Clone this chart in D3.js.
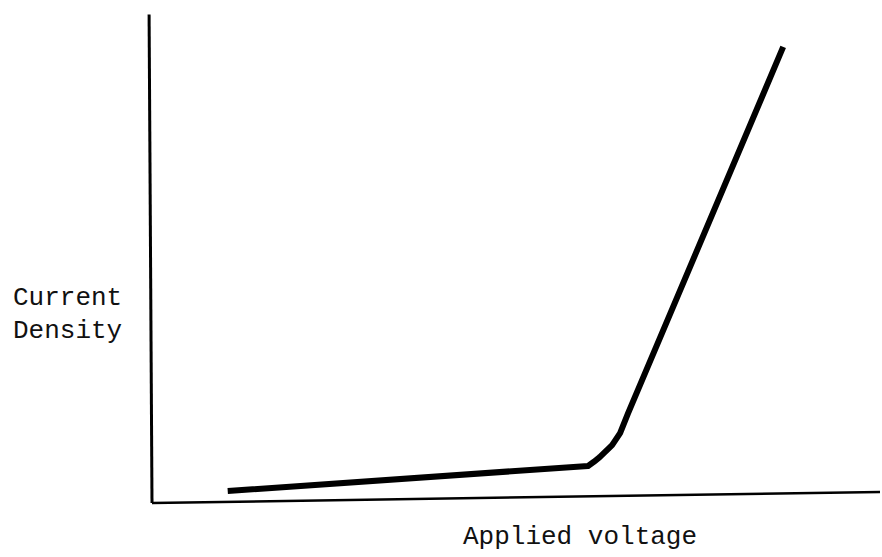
<!DOCTYPE html>
<html>
<head>
<meta charset="utf-8">
<script src="https://cdn.jsdelivr.net/npm/d3@7"></script>
<style>
  body { margin: 0; background: #fff; }
  text { font-family: "Courier New", "Liberation Mono", monospace; fill: #111; }
</style>
</head>
<body>
<div id="chart"></div>
<script>
// curve (arbitrary units: voltage vs current density)
const voltage = [1.04, 5.99, 6.07, 6.15, 6.32, 6.43, 6.54, 8.67];
const current = [0.26, 0.80, 0.89, 0.99, 1.25, 1.51, 1.94, 9.85];

// axis lines (the x axis in the original is slightly tilted)
const xAxisV = [0, 10];
const xAxisI = [0, 0.24];
const yAxisV = [-0.04, 0];
const yAxisI = [10.55, 0];

const yLabel = ["Current", "Density"];
const xLabel = "Applied voltage";

const width = 882;
const height = 557;

const xScale = d3.scaleLinear().domain([0, 10]).range([152, 880]);
const yScale = d3.scaleLinear().domain([0, 10]).range([503, 40]);

const svg = d3.select("#chart")
              .append("svg")
              .attr("width", width)
              .attr("height", height);

const line = d3.line()
               .x((d) => xScale(d[0]))
               .y((d) => yScale(d[1]));

// axes
svg.append("path")
   .attr("d", line(d3.zip(yAxisV, yAxisI)))
   .attr("fill", "none")
   .attr("stroke", "#000")
   .attr("stroke-width", 3);

svg.append("path")
   .attr("d", line(d3.zip(xAxisV, xAxisI)))
   .attr("fill", "none")
   .attr("stroke", "#000")
   .attr("stroke-width", 2.5);

// the curve
svg.append("path")
   .attr("d", line(d3.zip(voltage, current)))
   .attr("fill", "none")
   .attr("stroke", "#000")
   .attr("stroke-width", 6)
   .attr("stroke-linecap", "butt")
   .attr("stroke-linejoin", "round");

// labels
svg.selectAll(".ylab")
   .data(yLabel)
   .enter()
   .append("text")
   .attr("class", "ylab")
   .attr("x", 13)
   .attr("y", (d, i) => 305 + i * 33)
   .attr("font-size", "26px")
   .text((d) => d);

svg.append("text")
   .attr("x", 463)
   .attr("y", 544)
   .attr("font-size", "26px")
   .text(xLabel);
</script>
</body>
</html>
